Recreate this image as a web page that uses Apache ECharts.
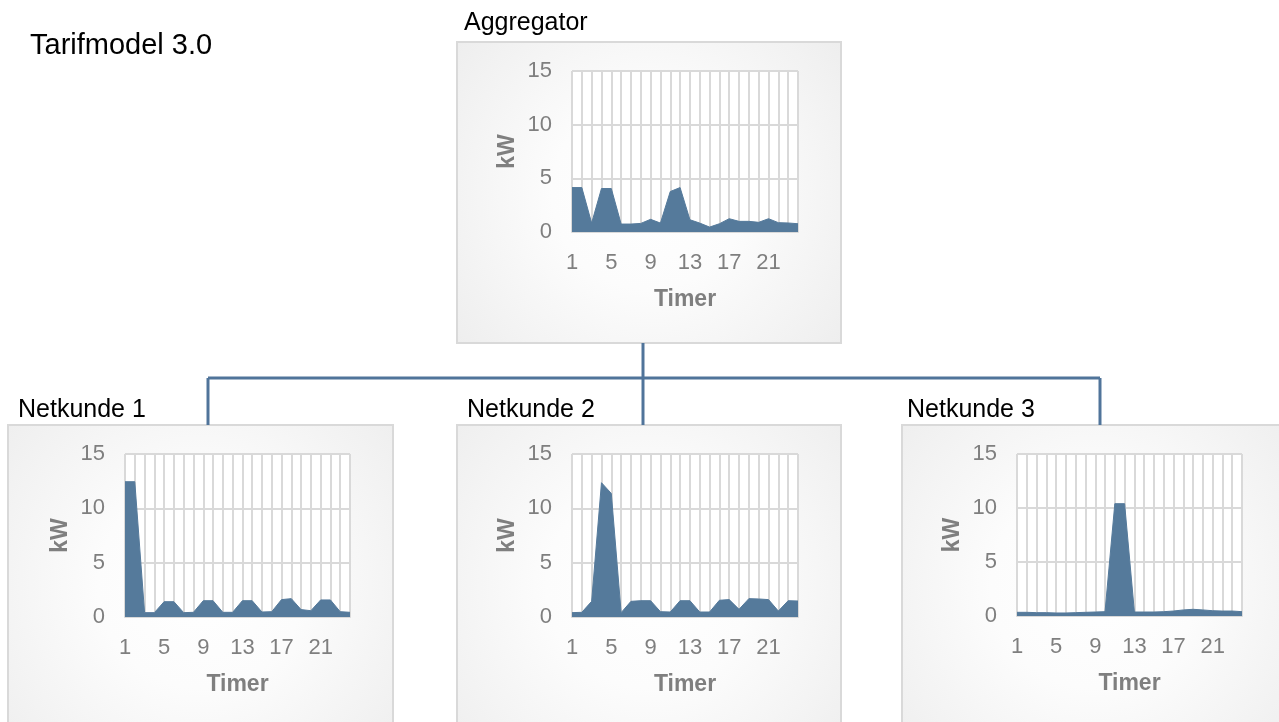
<!DOCTYPE html>
<html>
<head>
<meta charset="utf-8">
<script src="https://cdn.jsdelivr.net/npm/echarts@6/dist/echarts.min.js"></script>
<style>
html,body{margin:0;padding:0;background:#fff;}
#chart{width:1279px;height:722px;}
</style>
</head>
<body>
<div id="chart"></div>
<script>
var hours = ['1','2','3','4','5','6','7','8','9','10','11','12','13','14','15','16','17','18','19','20','21','22','23','24'];
var yTicks = [0, 5, 10, 15];
var aggregator = [4.14, 4.14, 0.83, 4.05, 4.05, 0.74, 0.74, 0.8, 1.18, 0.83, 3.77, 4.14, 1.14, 0.83, 0.46, 0.77, 1.24, 0.99, 0.99, 0.9, 1.24, 0.87, 0.84, 0.77];
var netkunde1 = [12.45, 12.45, 0.4, 0.4, 1.41, 1.41, 0.4, 0.43, 1.5, 1.5, 0.43, 0.43, 1.5, 1.5, 0.46, 0.49, 1.6, 1.69, 0.68, 0.58, 1.57, 1.57, 0.49, 0.43];
var netkunde2 = [0.4, 0.43, 1.44, 12.36, 11.37, 0.4, 1.44, 1.5, 1.5, 0.49, 0.46, 1.5, 1.5, 0.46, 0.46, 1.54, 1.6, 0.71, 1.69, 1.66, 1.6, 0.55, 1.5, 1.47];
var netkunde3 = [0.34, 0.34, 0.31, 0.31, 0.28, 0.28, 0.31, 0.34, 0.37, 0.4, 10.4, 10.4, 0.37, 0.37, 0.37, 0.4, 0.46, 0.56, 0.62, 0.56, 0.49, 0.46, 0.46, 0.4];
var panelTitles = ['Aggregator', 'Netkunde 1', 'Netkunde 2', 'Netkunde 3'];
var mainTitle = 'Tarifmodel 3.0';
var xName = 'Timer';
var yName = 'kW';

var FONT = 'Arial, "Liberation Sans", sans-serif';
var AREA = '#557a9b';
var LINE = '#50749a';
var GRIDC = '#d9d9d9';
var LABC = '#7f7f7f';

var panels = [
  {data: aggregator, box: [457, 42, 384, 301], grid: [572, 71, 226, 161], title: [464, 23]},
  {data: netkunde1, box: [8, 425, 385, 320], grid: [125, 454, 225, 163], title: [18, 410]},
  {data: netkunde2, box: [457, 425, 384, 320], grid: [572, 454, 226, 163], title: [467, 410]},
  {data: netkunde3, box: [902, 425, 384, 320], grid: [1017, 454, 225, 162], title: [907, 410]}
];

var grids = [], xAxes = [], yAxes = [], series = [], graphics = [];

panels.forEach(function (p, i) {
  graphics.push({
    type: 'rect', z: -10,
    shape: {x: p.box[0], y: p.box[1], width: p.box[2], height: p.box[3]},
    style: {
      fill: {type: 'radial', x: 0.5, y: 0.5, r: 0.8,
        colorStops: [{offset: 0, color: '#ffffff'}, {offset: 0.4, color: '#fcfcfc'}, {offset: 1, color: '#eeeeee'}]},
      stroke: GRIDC, lineWidth: 2
    }
  });
  graphics.push({
    type: 'text', z: 10, x: p.title[0], y: p.title[1],
    style: {text: panelTitles[i], font: '25px ' + FONT, fill: '#000', textVerticalAlign: 'middle', textAlign: 'left'}
  });
  grids.push({left: p.grid[0], top: p.grid[1], width: p.grid[2], height: p.grid[3],
    show: true, backgroundColor: '#ffffff', borderWidth: 0});
  xAxes.push({
    type: 'category', gridIndex: i, data: hours, boundaryGap: false,
    axisTick: {show: false},
    axisLine: {show: true, lineStyle: {color: GRIDC, width: 2}},
    axisLabel: {interval: 3, color: LABC, fontSize: 22, fontFamily: FONT, margin: 20},
    splitLine: {show: true, interval: 0, lineStyle: {color: GRIDC, width: 2}},
    name: xName, nameLocation: 'middle', nameGap: 56,
    nameTextStyle: {color: LABC, fontSize: 23, fontWeight: 'bold', fontFamily: FONT}
  });
  yAxes.push({
    type: 'value', gridIndex: i, min: yTicks[0], max: yTicks[yTicks.length - 1], interval: 5,
    axisLine: {show: false}, axisTick: {show: false},
    axisLabel: {color: LABC, fontSize: 22, fontFamily: FONT, margin: 20},
    splitLine: {show: true, lineStyle: {color: GRIDC, width: 2}},
    name: yName, nameLocation: 'middle', nameGap: 53, nameRotate: 90,
    nameTextStyle: {color: LABC, fontSize: 23, fontWeight: 'bold', fontFamily: FONT}
  });
  series.push({
    type: 'line', xAxisIndex: i, yAxisIndex: i, data: p.data,
    symbol: 'none', smooth: false,
    lineStyle: {color: AREA, width: 1},
    areaStyle: {color: AREA, opacity: 1},
    itemStyle: {color: AREA},
    z: 3
  });
});

graphics.push({
  type: 'text', z: 10, x: 30, y: 46,
  style: {text: mainTitle, font: '29px ' + FONT, fill: '#000', textVerticalAlign: 'middle', textAlign: 'left'}
});
// connector lines
var conn = [
  [[643, 343], [643, 378]],
  [[208, 378], [1100, 378]],
  [[208, 378], [208, 425]],
  [[643, 378], [643, 425]],
  [[1100, 378], [1100, 425]]
];
conn.forEach(function (c) {
  graphics.push({
    type: 'line', z: 5,
    shape: {x1: c[0][0], y1: c[0][1], x2: c[1][0], y2: c[1][1]},
    style: {stroke: LINE, lineWidth: 3}
  });
});

var chart = echarts.init(document.getElementById('chart'), null, {renderer: 'canvas'});
chart.setOption({
  animation: false,
  backgroundColor: '#ffffff',
  grid: grids, xAxis: xAxes, yAxis: yAxes, series: series,
  graphic: graphics
});
</script>
</body>
</html>
